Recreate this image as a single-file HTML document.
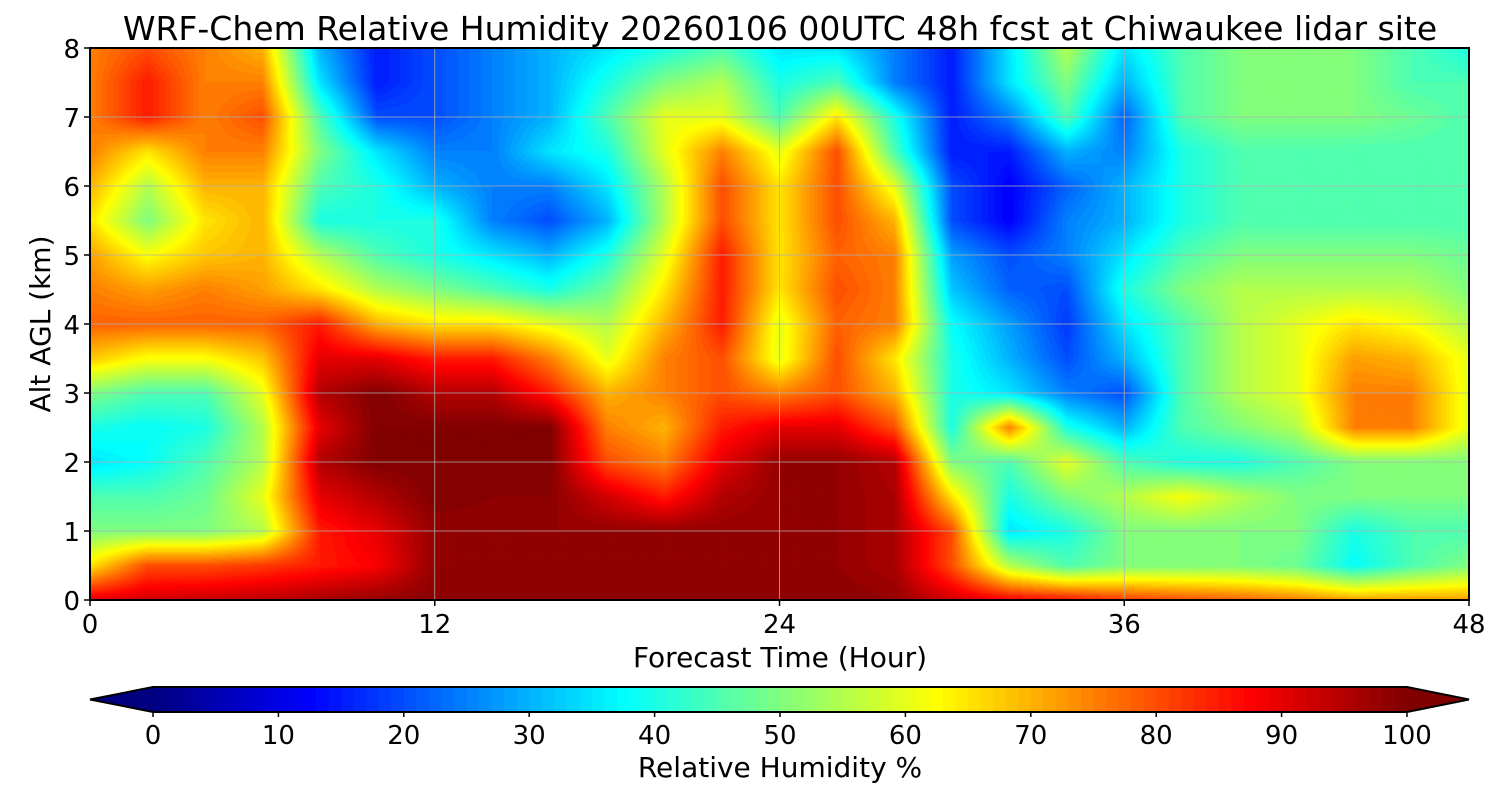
<!DOCTYPE html>
<html><head><meta charset="utf-8"><style>
body{margin:0;background:#fff;width:1500px;height:800px;overflow:hidden;font-family:"DejaVu Sans","Liberation Sans",sans-serif}
#field{position:absolute;left:90px;top:48px}
svg{position:absolute;left:0;top:0;font-family:"DejaVu Sans","Liberation Sans",sans-serif}
</style></head><body>
<canvas id="field" width="1379" height="552"></canvas>
<svg width="1500" height="800" id="ov"></svg>
<script>
const times=[0,2,4,6,8,10,12,14,16,18,20,22,24,26,28,30,32,34,36,38,40,42,44,46,48];
const alts=[0,0.5,1,1.5,2,2.5,3,3.5,4,4.5,5,5.5,6,6.5,7,7.5,8];
const rh0=[90,92,93,94,96,98,99,99,99,99,99,99,99,99,98,92,88,86,82,80,78,75,72,72,72];
const rh05=[65,80,80,82,85,88,98,98,98,98,98,98,98,98,96,80,55,45,50,50,50,48,38,45,50];
const rh1=[50,50,50,55,85,90,98,98,98,98,98,98,98,98,96,80,35,40,50,50,50,50,40,45,45];
const rh15=[45,45,48,60,90,95,100,99,99,92,85,95,98,98,96,65,40,50,55,62,55,50,50,50,50];
const rh2=[35,38,45,55,95,100,100,100,100,80,75,90,98,98,95,50,45,60,45,40,40,45,50,50,50];
const rh25=[40,38,40,55,90,100,100,100,100,75,70,85,90,90,80,40,75,40,30,45,50,55,75,75,60];
const rh3=[50,45,45,60,95,100,95,95,85,70,75,80,75,80,70,40,35,25,20,45,55,60,75,75,60];
const rh35=[68,62,62,68,90,90,85,85,75,60,75,80,60,80,65,40,30,20,30,45,55,60,72,70,60];
const rh4=[78,78,78,78,85,70,65,65,60,55,70,85,60,78,75,38,28,18,35,45,55,60,65,62,55];
const rh45=[75,72,75,72,65,55,50,45,40,48,65,85,65,80,75,32,22,20,40,50,55,55,55,55,50];
const rh5=[72,62,68,70,55,45,40,35,30,40,60,85,65,78,75,28,20,25,35,45,50,50,50,50,48];
const rh55=[65,50,65,70,40,40,40,25,20,30,55,80,65,80,70,20,12,25,30,40,45,45,45,45,45];
const rh6=[70,55,70,70,45,40,30,25,25,35,55,80,65,80,60,20,12,22,30,40,45,45,45,45,45];
const rh65=[75,65,75,75,50,35,25,25,35,40,60,75,60,80,45,15,15,30,25,40,45,45,45,45,45];
const rh7=[75,85,75,80,45,20,20,25,30,45,60,60,45,65,40,15,25,45,22,45,50,50,50,48,45];
const rh75=[75,85,75,75,35,15,20,25,30,40,50,55,40,45,25,15,35,50,30,45,50,50,50,45,45];
const rh8=[75,80,75,70,30,15,20,25,30,35,40,45,35,35,25,15,35,55,35,45,50,50,50,45,40];
const grid=[rh0,rh05,rh1,rh15,rh2,rh25,rh3,rh35,rh4,rh45,rh5,rh55,rh6,rh65,rh7,rh75,rh8];
const xTicks=[0,12,24,36,48];
const yTicks=[0,1,2,3,4,5,6,7,8];
const cbTicks=[0,10,20,30,40,50,60,70,80,90,100];

const PL=90,PT=48,PW=1379,PH=552;
const xs=t=>PL+t/48*PW, ys=a=>PT+PH-a/8*PH;
function jet(v){let x=Math.max(0,Math.min(1,v/100));
 const c=t=>Math.round(255*Math.max(0,Math.min(1,t)));
 let r=c(1.5-Math.abs(4*x-3)),g=c(1.5-Math.abs(4*x-2)),b=c(1.5-Math.abs(4*x-1));return [r,g,b];}
function interp(arr,v){let i=0;while(i<arr.length-2&&v>arr[i+1])i++;return [i,(v-arr[i])/(arr[i+1]-arr[i])];}
const cv=document.getElementById('field'),ctx=cv.getContext('2d'),img=ctx.createImageData(PW,PH);
for(let py=0;py<PH;py++){const a=(PH-py-0.5)/PH*8;const [j,fy]=interp(alts,a);
 for(let px=0;px<PW;px++){const t=(px+0.5)/PW*48;const [i,fx]=interp(times,t);
  const v=grid[j][i]*(1-fx)*(1-fy)+grid[j][i+1]*fx*(1-fy)+grid[j+1][i]*(1-fx)*fy+grid[j+1][i+1]*fx*fy;
  const q=Math.floor(v)+0.5;const [r,g,b]=jet(q);const k=(py*PW+px)*4;
  img.data[k]=r;img.data[k+1]=g;img.data[k+2]=b;img.data[k+3]=255;}}
ctx.putImageData(img,0,0);

const svg=document.getElementById('ov');const NS='http://www.w3.org/2000/svg';
function el(tag,at,txt){const e=document.createElementNS(NS,tag);for(const k in at)e.setAttribute(k,at[k]);if(txt!==undefined)e.textContent=txt;svg.appendChild(e);return e;}
xTicks.forEach(t=>{const l=el('line',{x1:xs(t),x2:xs(t),y1:PT,y2:PT+PH,stroke:'#b0b0b0','stroke-width':0.8});
 
 
 el('line',{x1:xs(t),x2:xs(t),y1:PT+PH,y2:PT+PH+6,stroke:'#000','stroke-width':1.5});
 const tx=el('text',{x:xs(t),y:633,'font-size':26,'text-anchor':'middle'},t);
 
 });
yTicks.forEach(a=>{const l=el('line',{x1:PL,x2:PL+PW,y1:ys(a),y2:ys(a),stroke:'#b0b0b0','stroke-width':0.8});
 
 
 el('line',{x1:PL-6,x2:PL,y1:ys(a),y2:ys(a),stroke:'#000','stroke-width':1.5});
 const tx=el('text',{x:80,y:ys(a)+10,'font-size':26,'text-anchor':'end'},a);
 
 });
const fr=el('rect',{x:PL,y:PT,width:PW,height:PH,fill:'none',stroke:'#000','stroke-width':2});


const ti=el('text',{x:780,y:40,'font-size':33,'text-anchor':'middle'},'WRF-Chem Relative Humidity 20260106 00UTC 48h fcst at Chiwaukee lidar site');


const xl=el('text',{x:780,y:667,'font-size':28,'text-anchor':'middle'},'Forecast Time (Hour)');


const yl=el('text',{x:50,y:324,'font-size':28,'text-anchor':'middle',transform:'rotate(-90 50 324)'},'Alt AGL (km)');


const CB0=153,CB1=1407,CT=687,CH=25;const cx=v=>CB0+v/100*(CB1-CB0);
for(let v=0;v<100;v++){const [r,g,b]=jet(v+0.5);const rc=el('rect',{x:cx(v),y:CT,width:(CB1-CB0)/100+0.6,height:CH,fill:`rgb(${r},${g},${b})`});
 
 }
const [r0,g0,b0]=jet(0),[r1,g1,b1]=jet(100);
const lt=el('polygon',{points:`${CB0},${CT} ${CB0},${CT+CH} 90,${CT+CH/2}`,fill:`rgb(${r0},${g0},${b0})`});


const rt=el('polygon',{points:`${CB1},${CT} ${CB1},${CT+CH} 1469,${CT+CH/2}`,fill:`rgb(${r1},${g1},${b1})`});


const ob=el('polygon',{points:`90,${CT+CH/2} ${CB0},${CT} ${CB1},${CT} 1469,${CT+CH/2} ${CB1},${CT+CH} ${CB0},${CT+CH}`,fill:'none',stroke:'#000','stroke-width':2});


cbTicks.forEach(v=>{el('line',{x1:cx(v),x2:cx(v),y1:CT+CH,y2:CT+CH+5,stroke:'#000','stroke-width':1.5});
 const tx=el('text',{x:cx(v),y:744,'font-size':26,'text-anchor':'middle'},v);
 
 });
const cl=el('text',{x:780,y:777,'font-size':28,'text-anchor':'middle'},'Relative Humidity %');


</script>
</body></html>
